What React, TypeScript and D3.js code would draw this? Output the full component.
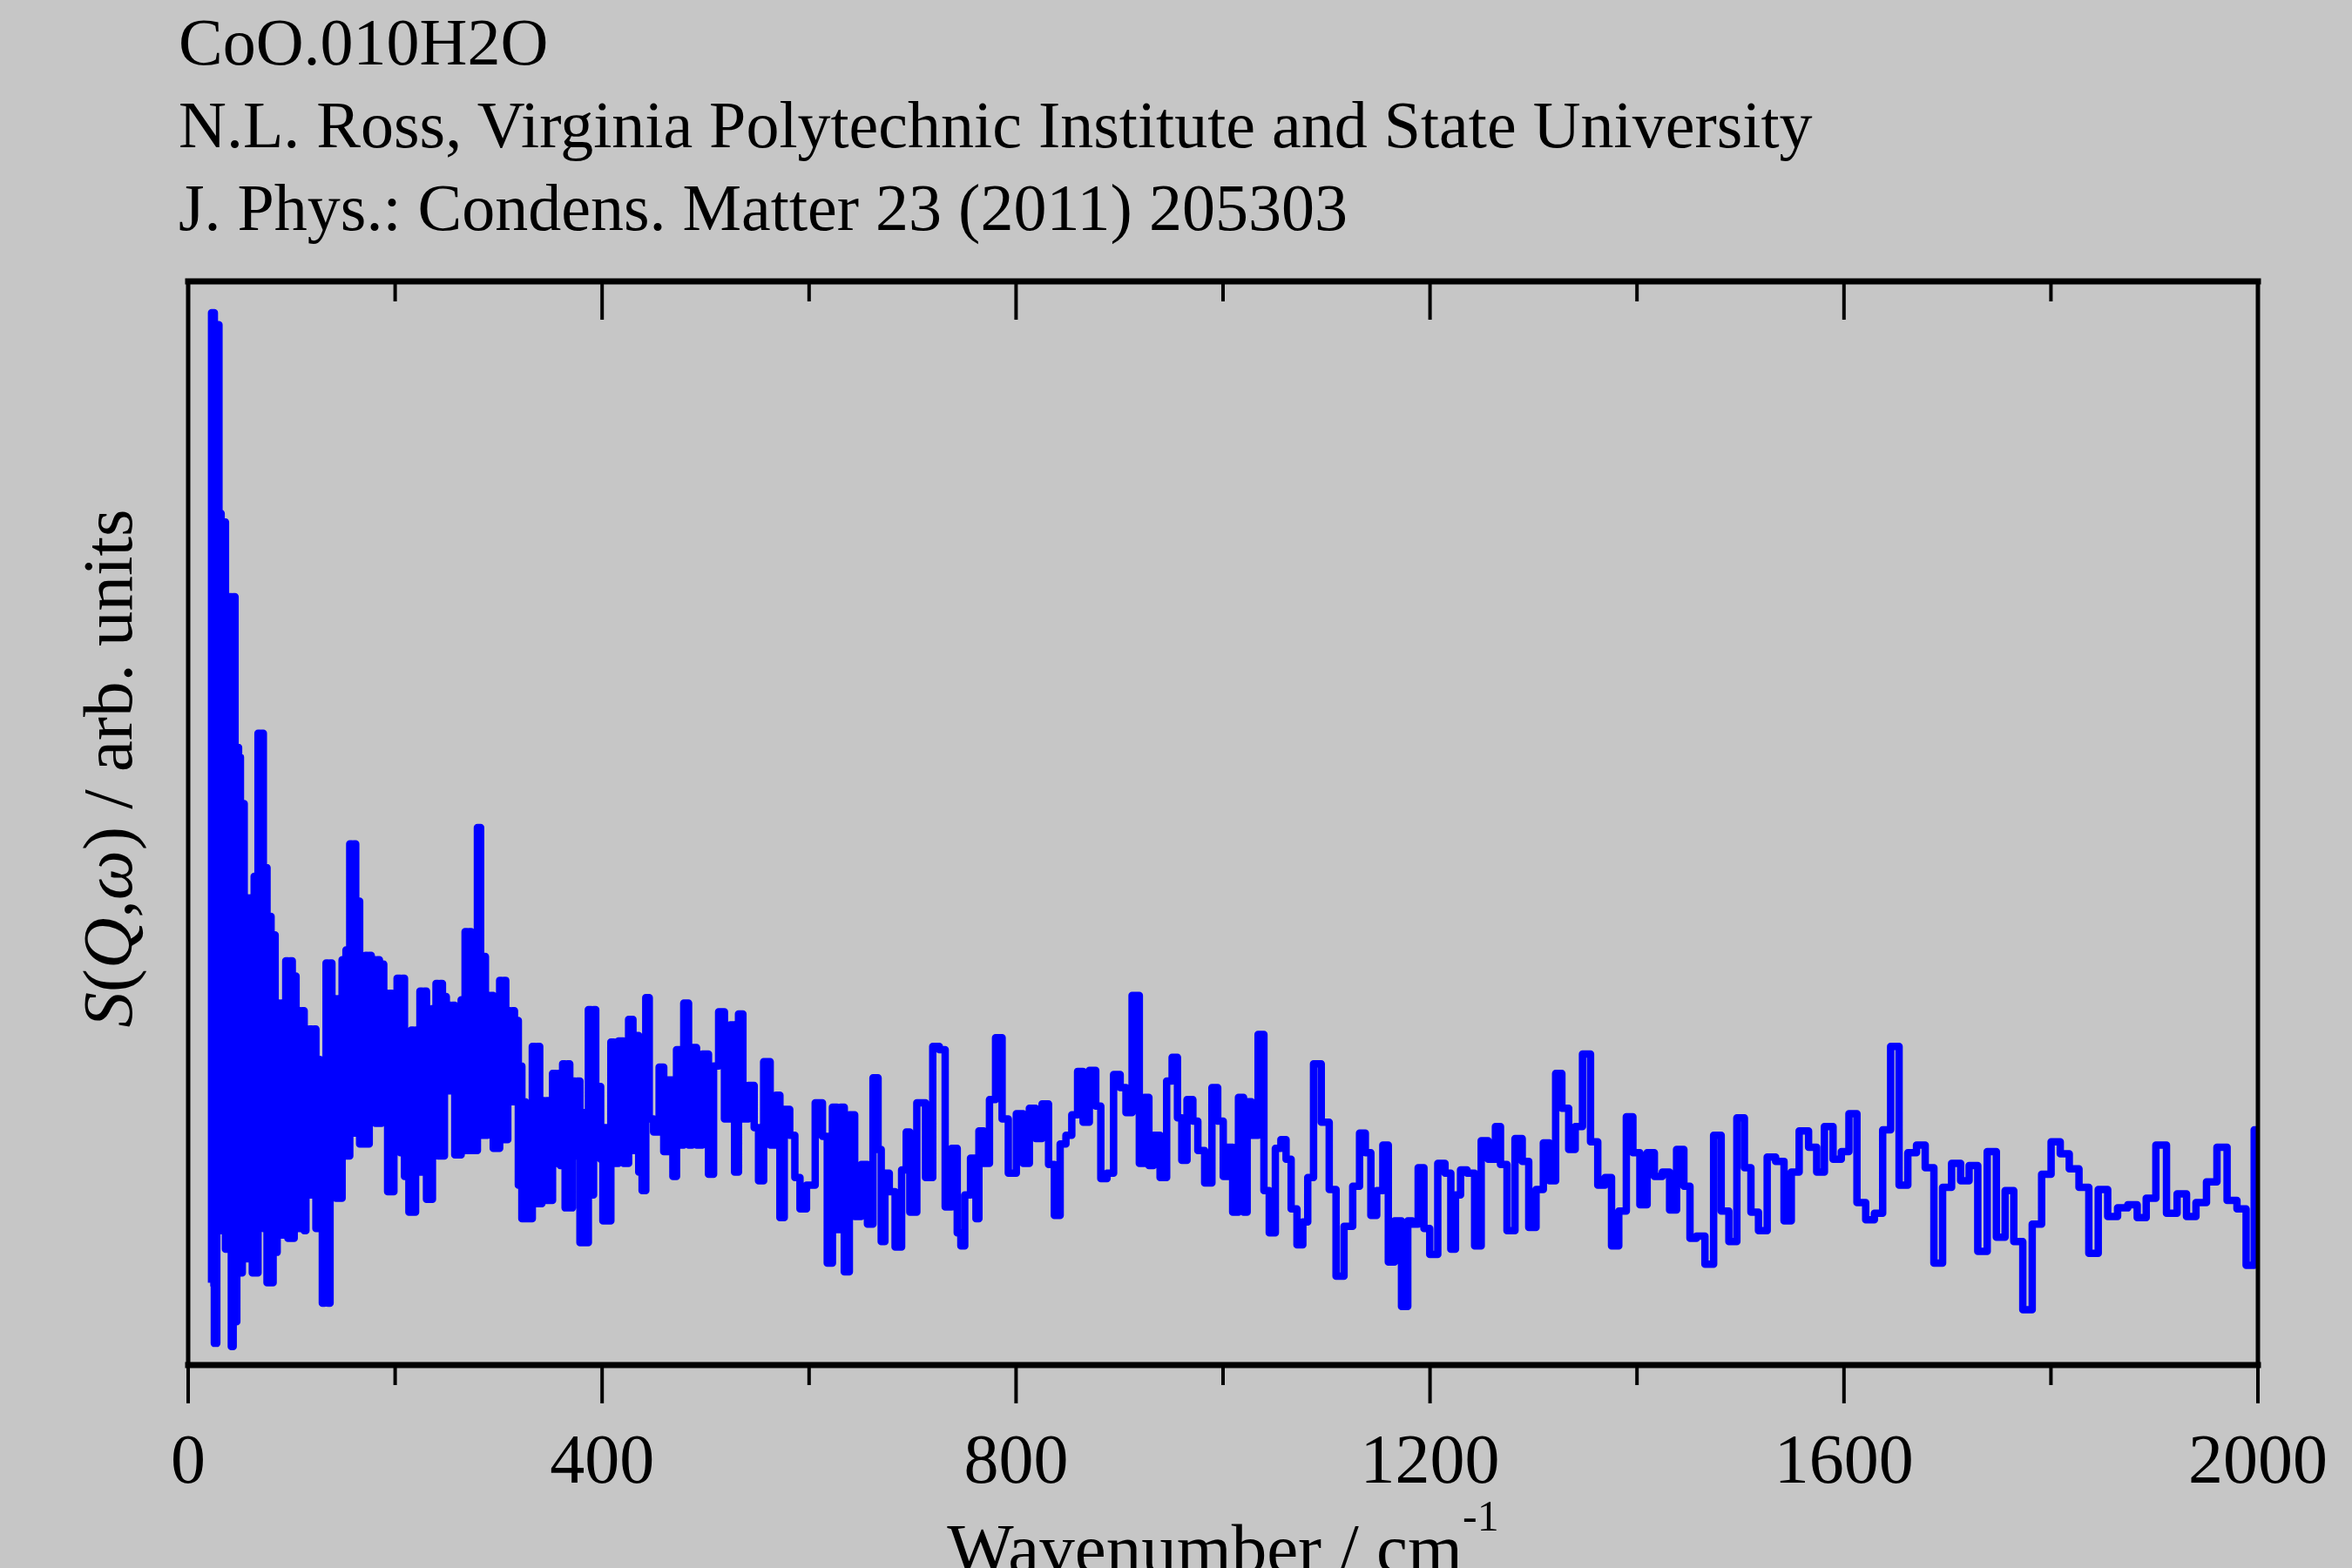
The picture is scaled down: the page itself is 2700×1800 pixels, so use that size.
import React from 'react';
import * as d3 from 'd3';

// Header text printed above the frame
const titleLines = [
  'CoO.010H2O',
  'N.L. Ross, Virginia Polytechnic Institute and State University',
  'J. Phys.: Condens. Matter 23 (2011) 205303',
];

const majorTicks = [0, 400, 800, 1200, 1600, 2000];
const minorTicks = [200, 600, 1000, 1400, 1800];

// [wavenumber / cm-1, S(Q,w) arb. units]
const band0to200: [number, number][] = [
  [21.3, 7.6], [23.9, 97.1], [26.7, 2.0], [28.6, 96.0], [30.9, 78.6], [32.8, 12.4], [35.1, 77.8], [37.0, 10.7],
  [38.4, 67.3], [40.7, 70.9], [42.7, 1.7], [44.3, 70.9], [46.3, 4.0], [47.7, 57.0], [49.7, 56.1], [51.3, 8.5],
  [53.3, 51.8], [55.0, 9.8], [57.0, 43.1], [58.9, 9.8], [60.9, 43.1], [63.1, 8.5], [64.5, 45.1], [66.5, 8.5],
  [68.5, 58.3], [70.2, 20.0], [71.8, 58.3], [73.5, 12.6], [75.2, 45.9], [77.2, 7.6], [79.1, 41.4], [81.1, 7.6],
  [83.1, 39.7], [85.0, 10.4], [87.0, 33.4], [88.9, 12.0], [91.2, 33.4], [93.2, 12.0], [95.4, 37.3], [97.4, 11.7],
  [99.6, 37.3], [101.6, 11.7], [103.3, 35.9], [105.2, 12.6], [107.2, 32.7], [109.2, 12.6], [111.1, 32.7], [113.1, 12.4],
  [114.5, 29.7], [116.4, 15.7], [118.4, 31.0], [120.7, 15.7], [122.6, 31.0], [124.3, 12.6], [126.3, 28.2], [128.5, 12.6],
  [130.8, 5.7], [132.4, 28.2], [134.1, 37.1], [136.1, 5.7], [138.1, 37.1], [139.7, 17.0], [141.7, 33.8], [143.7, 15.4],
  [145.9, 33.8], [147.9, 15.4], [149.6, 37.4], [151.5, 19.3], [153.5, 38.3], [155.2, 19.3], [157.1, 48.1], [159.1, 21.4],
  [161.1, 48.1], [162.7, 21.4], [164.7, 42.8], [166.7, 20.4], [168.4, 33.6], [170.3, 20.4], [172.3, 37.8], [174.0, 20.4],
  [175.9, 37.8], [177.9, 24.2], [179.9, 37.4], [181.8, 22.3], [183.8, 37.4], [185.8, 22.3], [188.0, 37.0], [190.0, 22.6],
  [191.9, 34.3], [193.6, 16.0], [195.9, 34.3], [197.8, 16.0], [199.8, 33.9],
];

const band200to400: [number, number][] = [
  [204.0, 35.7], [206.0, 19.6], [208.2, 35.7], [209.9, 17.4], [212.2, 28.6], [214.4, 14.1], [216.7, 30.9], [218.6, 14.1],
  [220.9, 30.9], [222.8, 17.8], [225.1, 34.5], [227.0, 17.8], [229.3, 34.5], [231.3, 15.3], [233.5, 28.7], [235.2, 15.3],
  [236.9, 32.9], [238.5, 19.7], [240.5, 35.2], [242.5, 19.3], [244.7, 35.2], [246.7, 19.3], [248.6, 34.0], [250.3, 25.3],
  [252.6, 33.2], [254.5, 25.3], [256.5, 33.2], [258.8, 19.4], [261.0, 30.1], [262.7, 19.4], [264.9, 33.7], [266.6, 19.8],
  [268.6, 40.0], [270.5, 19.8], [272.5, 40.0], [274.5, 19.8], [276.2, 35.8], [277.8, 19.8], [281.2, 49.6], [284.0, 21.2],
  [286.3, 37.7], [288.2, 21.2], [290.2, 34.1], [291.9, 24.5], [293.8, 34.1], [295.8, 20.0], [298.0, 31.2], [300.0, 20.0],
  [302.0, 35.5], [303.9, 20.8], [305.9, 35.5], [307.9, 20.8], [309.8, 32.7], [312.1, 24.3], [314.3, 32.7], [316.3, 24.3],
  [318.2, 31.8], [319.9, 16.6], [321.6, 27.6], [323.3, 13.5], [325.0, 24.3], [326.9, 13.5], [328.9, 24.1], [331.1, 13.5],
  [334.0, 29.4], [336.2, 14.9], [338.7, 29.4], [340.7, 14.9], [342.9, 24.4], [345.2, 15.2], [347.4, 24.4], [350.0, 15.2],
  [354.2, 26.9], [356.4, 18.6], [358.6, 26.9], [360.6, 18.4], [363.1, 27.8], [365.4, 14.5], [367.6, 27.8], [369.9, 14.5],
  [372.7, 26.2], [374.9, 19.3], [377.2, 26.2], [380.0, 11.3], [382.8, 23.3], [385.0, 11.3], [388.4, 32.8], [390.6, 15.7],
  [392.9, 32.8], [394.8, 22.3], [397.6, 25.7], [399.6, 19.0], [401.9, 13.3], [403.3, 21.9],
];

const band400to800: [number, number][] = [
  [407.4, 13.3], [409.5, 29.8], [413.0, 18.6], [418.6, 29.9], [422.8, 18.6], [428.4, 31.9], [431.2, 19.8], [434.0, 30.4],
  [436.8, 17.8], [440.5, 16.1], [443.9, 33.9], [447.2, 22.7], [452.3, 21.5], [457.9, 27.5], [461.2, 19.7], [466.3, 26.3],
  [470.5, 17.4], [473.3, 29.1], [476.1, 20.3], [481.7, 33.4], [485.4, 20.3], [488.7, 29.3], [493.8, 20.3], [500.0, 28.7],
  [505.6, 17.6], [509.8, 27.6], [515.4, 32.6], [521.0, 22.7], [526.6, 31.4], [529.4, 17.8], [534.2, 32.4], [537.9, 22.7],
  [544.9, 25.8], [549.0, 21.9], [553.3, 17.0], [558.9, 28.0], [565.9, 20.3], [570.1, 24.9], [573.5, 13.6], [578.5, 23.6],
  [584.1, 21.2], [588.4, 17.3], [594.0, 14.4], [601.0, 16.6], [610.8, 24.2], [615.0, 21.1], [620.1, 9.4], [625.0, 23.8],
  [629.1, 12.5], [631.9, 23.8], [636.1, 8.6], [641.7, 23.1], [646.4, 13.7], [654.3, 18.5], [658.5, 13.0], [665.0, 26.5],
  [668.3, 19.9], [671.1, 11.4], [675.4, 17.7], [679.6, 16.0], [686.6, 10.9], [692.2, 18.0], [695.5, 21.5], [699.2, 14.1],
  [709.0, 24.2], [716.0, 17.3], [723.0, 29.4], [728.7, 29.1], [734.3, 14.6], [741.3, 20.0], [745.0, 12.2], [748.3, 11.0],
  [752.5, 15.7], [759.5, 19.1], [763.0, 13.5], [765.2, 21.6], [772.2, 18.6], [776.4, 24.5], [784.0, 30.2], [789.0, 22.7],
];

const band800to1200: [number, number][] = [
  [796.0, 17.7], [804.5, 23.2], [809.2, 18.6], [816.5, 23.7], [821.3, 20.9], [828.9, 24.1], [833.9, 18.5], [840.1, 13.8],
  [845.1, 20.4], [851.3, 21.2], [856.4, 23.1], [862.5, 27.1], [867.0, 22.4], [874.6, 27.2], [879.4, 23.9], [884.4, 17.2],
  [891.4, 17.7], [897.1, 26.8], [904.1, 25.6], [908.3, 23.3], [915.9, 34.1], [922.3, 18.6], [926.0, 24.7], [930.7, 18.4],
  [934.9, 21.2], [943.4, 17.3], [947.6, 26.2], [954.0, 28.4], [957.9, 22.8], [962.4, 18.9], [968.0, 24.5], [973.7, 22.5],
  [977.6, 19.8], [986.9, 16.8], [991.6, 25.6], [998.1, 22.5], [1002.3, 17.4], [1006.5, 20.1], [1012.1, 14.1], [1017.7, 24.7],
  [1021.9, 14.1], [1024.7, 24.3], [1030.3, 21.2], [1037.4, 30.5], [1041.6, 16.1], [1047.7, 12.2], [1053.4, 20.0], [1058.4, 20.8],
  [1063.4, 19.0], [1068.2, 14.4], [1074.7, 11.1], [1079.5, 13.2], [1084.2, 17.3], [1090.7, 27.8], [1099.1, 22.4], [1106.1, 16.2],
  [1112.3, 8.2], [1121.5, 12.8], [1129.1, 16.5], [1134.7, 21.4], [1140.3, 19.6], [1145.4, 13.8], [1151.6, 16.1], [1157.2, 20.3],
  [1162.2, 9.5], [1169.2, 13.3], [1175.7, 5.4], [1181.3, 13.3],
];

const band1200to1600: [number, number][] = [
  [1184.6, 13.0], [1192.5, 18.2], [1195.8, 12.6], [1203.7, 10.2], [1211.3, 18.6], [1217.7, 17.7], [1222.5, 10.7], [1226.7, 15.7],
  [1232.3, 18.0], [1239.3, 17.7], [1246.9, 11.0], [1252.0, 20.7], [1260.4, 19.0], [1266.0, 22.0], [1270.2, 18.5], [1278.6, 12.4],
  [1285.6, 20.9], [1292.6, 18.8], [1298.2, 12.7], [1306.7, 16.2], [1312.3, 20.5], [1318.5, 17.0], [1324.3, 26.9], [1330.5, 23.7],
  [1337.5, 19.9], [1343.1, 22.0], [1351.6, 28.7], [1358.6, 20.6], [1365.6, 16.6], [1372.6, 17.3], [1378.2, 11.0], [1386.6, 14.2],
  [1392.8, 22.9], [1399.3, 19.6], [1406.3, 14.8], [1413.3, 19.6], [1420.3, 17.4], [1428.7, 17.8], [1434.3, 14.3], [1442.2, 19.9],
  [1448.4, 16.5], [1454.0, 11.7], [1461.0, 11.9], [1470.3, 9.3], [1477.8, 21.2], [1484.9, 14.2], [1492.7, 11.4], [1500.3, 22.8],
  [1507.3, 18.2], [1512.9, 14.1], [1521.9, 12.4], [1529.7, 19.2], [1538.2, 18.8], [1546.0, 13.3], [1552.2, 17.8], [1561.2, 21.6],
  [1570.4, 20.1], [1576.9, 17.8], [1585.3, 22.0],
];

const band1600to2000: [number, number][] = [
  [1593.6, 19.0], [1601.3, 19.7], [1608.3, 23.2], [1616.8, 15.0], [1625.2, 13.4], [1633.6, 14.0], [1641.2, 21.7], [1649.0, 29.4],
  [1657.5, 16.6], [1665.9, 19.6], [1674.3, 20.3], [1682.7, 18.2], [1691.1, 9.4], [1699.5, 16.4], [1708.5, 18.6], [1717.0, 17.0],
  [1724.8, 18.4], [1733.8, 10.5], [1743.0, 19.7], [1751.5, 11.8], [1759.9, 16.1], [1768.3, 11.4], [1777.3, 5.1], [1786.5, 13.0],
  [1795.5, 17.6], [1804.8, 20.6], [1813.2, 19.5], [1822.2, 18.1], [1832.0, 16.4], [1841.2, 10.3], [1850.2, 16.2], [1859.5, 13.7],
  [1869.3, 14.5], [1879.1, 14.8], [1887.6, 13.6], [1896.5, 15.4], [1906.3, 20.3], [1917.0, 14.0], [1926.8, 15.8], [1935.2, 13.7],
  [1945.1, 15.0], [1955.5, 16.9], [1965.3, 20.1], [1975.1, 15.2], [1984.4, 14.4], [1992.8, 9.2], [2000.0, 21.7],
];

const W = 2700;
const H = 1800;
const frame = { left: 216, right: 2592, top: 323, bottom: 1567 };
const serif = '"Liberation Serif", "Times New Roman", serif';

export default function App() {
  const x = d3.scaleLinear().domain([0, 2000]).range([frame.left, frame.right]);
  const y = d3.scaleLinear().domain([0, 100]).range([frame.bottom, frame.top]);

  const spectrum = [
    ...band0to200, ...band200to400, ...band400to800,
    ...band800to1200, ...band1200to1600, ...band1600to2000,
  ];

  const line = d3
    .line<[number, number]>()
    .x(d => x(d[0]))
    .y(d => y(d[1]))
    .curve(d3.curveStep);

  const majorLen = 44;
  const minorLen = 23;

  return (
    <svg
      width={W}
      height={H}
      style={{ position: 'absolute', left: 0, top: 0, display: 'block' }}
      fontFamily={serif}
    >
      <rect x={0} y={0} width={W} height={H} fill="#c6c6c6" />

      {titleLines.map((t, i) => (
        <text key={t} x={205} y={74 + i * 95} fontSize={76} fill="#000">
          {t}
        </text>
      ))}

      <clipPath id="plot-clip">
        <rect x={frame.left} y={frame.top - 10} width={frame.right - frame.left} height={frame.bottom - frame.top + 10} />
      </clipPath>

      <path
        d={line(spectrum) ?? ''}
        fill="none"
        stroke="#0000ff"
        strokeWidth={8.5}
        strokeLinejoin="round"
        clipPath="url(#plot-clip)"
      />

      {/* frame */}
      <g stroke="#000" strokeLinecap="square">
        <line x1={frame.left} x2={frame.right} y1={frame.bottom} y2={frame.bottom} strokeWidth={7} />
        <line x1={frame.left} x2={frame.right} y1={frame.top} y2={frame.top} strokeWidth={7} />
        <line x1={frame.left} x2={frame.left} y1={frame.top} y2={frame.bottom} strokeWidth={5} />
        <line x1={frame.right} x2={frame.right} y1={frame.top} y2={frame.bottom} strokeWidth={5} />
      </g>

      {/* ticks: outward on bottom, inward on top */}
      <g stroke="#000" strokeWidth={4}>
        {majorTicks.map(t => (
          <g key={`M${t}`}>
            <line x1={x(t)} x2={x(t)} y1={frame.bottom} y2={frame.bottom + majorLen} />
            <line x1={x(t)} x2={x(t)} y1={frame.top} y2={frame.top + majorLen} />
          </g>
        ))}
        {minorTicks.map(t => (
          <g key={`m${t}`}>
            <line x1={x(t)} x2={x(t)} y1={frame.bottom} y2={frame.bottom + minorLen} />
            <line x1={x(t)} x2={x(t)} y1={frame.top} y2={frame.top + minorLen} />
          </g>
        ))}
      </g>

      {majorTicks.map(t => (
        <text key={`l${t}`} x={x(t)} y={1702} fontSize={80} textAnchor="middle" fill="#000">
          {t}
        </text>
      ))}

      <text x={(frame.left + frame.right) / 2} y={1805} fontSize={81} textAnchor="middle" fill="#000">
        <tspan>Wavenumber / cm</tspan>
        <tspan fontSize={50} dy={-48}>-1</tspan>
      </text>

      <text
        transform={`translate(151, 882) rotate(-90)`}
        fontSize={81}
        textAnchor="middle"
        fill="#000"
      >
        <tspan fontStyle="italic">S</tspan>
        <tspan>(</tspan>
        <tspan fontStyle="italic">Q</tspan>
        <tspan>,</tspan>
        <tspan fontStyle="italic">ω</tspan>
        <tspan>) / arb. units</tspan>
      </text>
    </svg>
  );
}
